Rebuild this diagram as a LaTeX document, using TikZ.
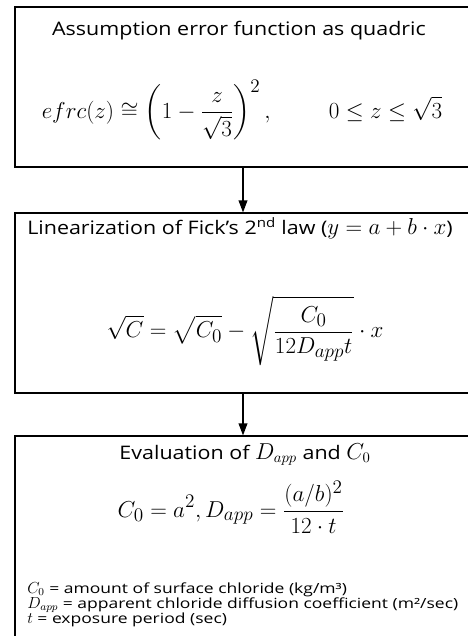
\documentclass[tikz,border=0pt]{standalone}
\usepackage{amsmath}
\usepackage{fontspec}
\setmainfont[FakeStretch=1.15]{Open Sans}
\newfontfamily\legendfont[FakeStretch=1.25]{Open Sans}
\usetikzlibrary{arrows.meta}
\newcommand{\headmath}[1]{{\fontsize{16}{16}\selectfont$#1$}}
\newcommand{\legmath}[1]{{\fontsize{11.5}{12}\selectfont$#1$}}

\begin{document}
\begin{tikzpicture}[
    x=0.75pt, y=-0.75pt,
    box/.style={rectangle, draw=black, line width=0.8pt, minimum width=342pt, inner sep=0pt},
    heading/.style={font=\fontsize{14}{16}\selectfont, anchor=base, inner sep=0pt},
    formula/.style={font=\fontsize{19}{22}\selectfont, inner sep=0pt},
    legend/.style={font=\legendfont\fontsize{10.5}{12}\selectfont, anchor=base west, inner sep=0pt},
    arrow/.style={-{Triangle[length=9pt, width=6.5pt]}, line width=1pt}
]
\useasboundingbox (0,0) rectangle (468,636);

% Boxes
\node[box, minimum height=120pt] (assume) at (243,87) {};
\node[box, minimum height=135pt] (linear) at (243,303) {};
\node[box, minimum height=168pt] (evaluate) at (243,548) {};

% Box 1: error function
\node[heading] (assumetitle) at (239,35) {Assumption error function as quadric};
\node[formula] (erfc) at (242,110)
    {$\displaystyle efrc(z) \cong \left(1-\frac{z}{\sqrt{3}}\right)^{2}, \hspace{2.15em} 0 \le z \le \sqrt{3}$};

% Box 2: linearization
\node[heading] (lineartitle) at (240,234)
    {Linearization of Fick’s 2\textsuperscript{nd} law (\headmath{y = a + b\cdot x})};
\node[formula] (fick) at (245,331)
    {$\displaystyle \sqrt{C} = \sqrt{C_0} - \sqrt{\frac{C_0}{12D_{app}t}}\cdot x$};

% Box 3: evaluation
\node[heading] (evaltitle) at (245,459) {Evaluation of \headmath{D_{app}} and \headmath{C_0}};
\node[formula] (result) at (231,507)
    {$\displaystyle C_0 = a^2, D_{app} = \frac{(a/b)^2}{12\cdot t}$};
\node[legend] (defC) at (27,593) {\legmath{C_0} = amount of surface chloride (kg/m³)};
\node[legend] (defD) at (27,608) {\legmath{D_{app}} = apparent chloride diffusion coefficient (m²/sec)};
\node[legend] (deft) at (27,623) {\legmath{t} = exposure period (sec)};

% Arrows
\draw[arrow] (assume) -- (linear);
\draw[arrow] (linear) -- (evaluate);

\end{tikzpicture}
\end{document}
